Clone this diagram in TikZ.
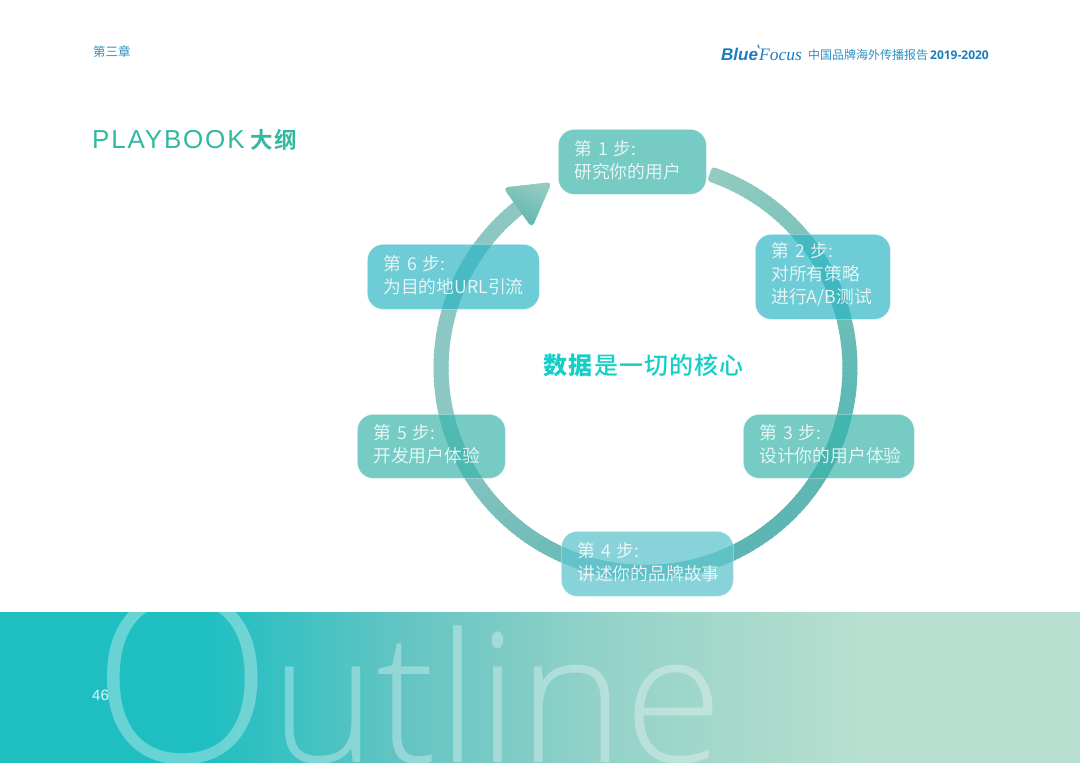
\documentclass[tikz,border=0pt]{standalone}
\usepackage{fontspec}
\setmainfont{Liberation Sans}
\newfontfamily\cjkl{Noto Sans CJK SC DemiLight}
\newfontfamily\cjkr{Noto Sans CJK SC}
\newfontfamily\cjkb[LetterSpace=4.5]{Noto Sans CJK SC Medium}
\newfontfamily\cjkh[LetterSpace=4.5]{Noto Sans CJK SC Black}
\newfontfamily\cjkm[LetterSpace=6]{Noto Sans CJK SC Bold}
\newfontfamily\ttlf[LetterSpace=7]{Liberation Sans}
\newfontfamily\bigf{Open Sans Light}
\newfontfamily\yrf{Open Sans Bold}
\newfontfamily\serf{Liberation Serif}
\definecolor{bandA}{HTML}{1FBFC1}
\definecolor{bandM}{HTML}{63C4C3}
\definecolor{bandN}{HTML}{93D2C8}
\definecolor{bandB}{HTML}{B8DFCF}
\definecolor{arcA}{HTML}{93CBC0}
\definecolor{arcB}{HTML}{5FB9B5}
\definecolor{arcC}{HTML}{5CB4B2}
\definecolor{arcD}{HTML}{8CC7C3}
\definecolor{boxG}{HTML}{38B5AB}
\definecolor{boxB}{HTML}{2BB5C3}
\definecolor{boxL}{HTML}{62C5CE}
\definecolor{titleC}{HTML}{33B8A0}
\definecolor{headC}{HTML}{2E8FC0}
\definecolor{logoC}{HTML}{1A7DC0}
\definecolor{coreC}{HTML}{14CFC5}
\pgfdeclarehorizontalshading{bandshade}{100bp}{color(0bp)=(bandA); color(34.5bp)=(bandA); color(43.5bp)=(bandM); color(52.8bp)=(bandN); color(65bp)=(bandB); color(100bp)=(bandB)}
\tikzset{
 stepbox/.style={draw=white,draw opacity=.45,line width=.7pt,rounded corners=16pt,
   anchor=north west,inner sep=0pt},
 steptext/.style={inner sep=0pt,align=left,text=white,text opacity=.88,yshift=2pt,
   font=\cjkl\fontsize{17.8}{23}\selectfont},
 ringseg/.style={line width=15pt,line cap=butt},
}
\newcommand{\ringpart}[5]{% from angle, to angle, colour, colour, steps
 \foreach \k in {1,...,#5}{
  \pgfmathsetmacro{\aone}{#1+(#2-#1)*(\k-1)/#5+0.25}
  \pgfmathsetmacro{\atwo}{#1+(#2-#1)*\k/#5-0.25}
  \pgfmathsetmacro{\mixp}{100*(\k-.5)/#5}
  \draw[ringseg,color=#4!\mixp!#3] ({645.5+204.5*cos(\aone)},{368-204.5*sin(\aone)}) -- ({645.5+204.5*cos(\atwo)},{368-204.5*sin(\atwo)});
 }}
\begin{document}
\begin{tikzpicture}[x=1pt,y=-1pt]
\useasboundingbox (0,0) rectangle (1080,763);
% band
\shade[shading=bandshade] (0,612) rectangle (1080,763);
\begin{scope}
\clip (0,612) rectangle (1080,763);
\node[anchor=base west,inner sep=0pt,text=white,text opacity=.32,font=\bigf\fontsize{236}{236}\selectfont] (bigo) at (92,762) {O};
\node[anchor=base west,inner sep=0pt,text=white,text opacity=.32,font=\bigf\fontsize{180}{180}\selectfont] (bigr) at (270.5,762) {utline};
\end{scope}
\node[anchor=base west,inner sep=0pt,text=white,text opacity=.85,font=\fontsize{15}{15}\selectfont] (pg) at (92,700) {46};
% header
\node[anchor=base west,inner sep=0pt,text=headC,font=\cjkr\fontsize{12.5}{14}\selectfont] (chap) at (93,56) {第三章};
\node[anchor=base west,inner sep=0pt,text=logoC,font=\bfseries\itshape\fontsize{17}{18}\selectfont] (logoa) at (721,60) {Blue};
\node[anchor=base west,inner sep=0pt,text=logoC,font=\serf\itshape\fontsize{17.5}{18}\selectfont] (logob) at (759,60) {Focus};
\fill[logoC] (757.5,44) .. controls (759,45) and (760,47) .. (759.5,49) .. controls (758,48) and (757,46) .. (757.5,44);
\node[anchor=base west,inner sep=0pt,text=headC,font=\cjkr\fontsize{12}{14}\selectfont] (rep) at (808,59) {中国品牌海外传播报告};
\node[anchor=base east,inner sep=0pt,text=logoC,font=\yrf\fontsize{12}{14}\selectfont] (yr) at (989,59) {2019-2020};
% title
\node[anchor=base west,inner sep=0pt,text=titleC,font=\ttlf\fontsize{26}{28}\selectfont] (ttl) at (92,148) {PLAYBOOK};
\node[anchor=base west,inner sep=0pt,text=titleC,font=\cjkm\fontsize{22.5}{28}\selectfont] (ttlz) at (250,148) {大纲};
% ring
\fill[arcA,rounded corners=3pt] (712,166.7) -- (721.5,170) -- (716.1,184) -- (707.3,181) -- cycle;
\ringpart{70}{-6}{arcA}{arcB}{52}
\ringpart{-6}{-83}{arcB}{arcC}{52}
\ringpart{-83}{-169}{arcC}{arcD}{58}
\ringpart{-169}{-234}{arcD}{arcD}{44}
% arrow head
\shade[rounded corners=5pt,top color=arcA,bottom color=arcC,shading angle=-25] (503,187.5) -- (552,182) -- (532,228) -- cycle;
% boxes
\node[stepbox,fill=boxG,fill opacity=.69,minimum width=148pt,minimum height=65pt] (s1) at (558,129) {};
\node[steptext,text width=116pt] (t1) at (s1.center) {第 1 步:\\研究你的用户};
\node[stepbox,fill=boxB,fill opacity=.69,minimum width=135pt,minimum height=85pt] (s2) at (755,234) {};
\node[steptext,text width=103pt] (t2) at (s2.center) {第 2 步:\\对所有策略\\进行A/B测试};
\node[stepbox,fill=boxG,fill opacity=.69,minimum width=171pt,minimum height=64pt] (s3) at (743,414) {};
\node[steptext,text width=139pt] (t3) at (s3.center) {第 3 步:\\设计你的用户体验};
\node[stepbox,fill=boxL,fill opacity=.76,minimum width=172pt,minimum height=65pt] (s4) at (561,531) {};
\node[steptext,text width=140pt] (t4) at (s4.center) {第 4 步:\\讲述你的品牌故事};
\node[stepbox,fill=boxG,fill opacity=.69,minimum width=148pt,minimum height=64pt] (s5) at (357,414) {};
\node[steptext,text width=116pt] (t5) at (s5.center) {第 5 步:\\开发用户体验};
\node[stepbox,fill=boxB,fill opacity=.69,minimum width=172pt,minimum height=65pt] (s6) at (367,244) {};
\node[steptext,text width=140pt] (t6) at (s6.center) {第 6 步:\\为目的地URL引流};
% centre
\node[anchor=base west,inner sep=0pt,text=coreC,font=\cjkh\fontsize{24}{26}\selectfont] (core1) at (543,374) {数据};
\node[anchor=base west,inner sep=0pt,text=coreC,font=\cjkb\fontsize{24}{26}\selectfont] (core2) at (594,374) {是一切的核心};
\end{tikzpicture}
\end{document}
